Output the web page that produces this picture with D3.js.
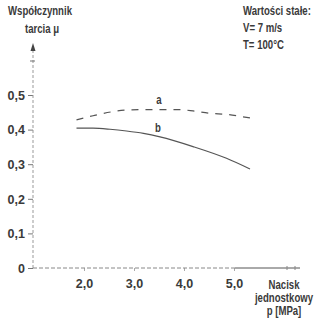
<!DOCTYPE html>
<html><head><meta charset="utf-8">
<script src="https://cdn.jsdelivr.net/npm/d3@7"></script>
<style>
body{margin:0;background:#fff;}
svg{display:block;}
text{font-family:"Liberation Sans",Arial,sans-serif;fill:#3a3a3a;font-weight:bold;}
</style></head><body>
<svg id="c" width="322" height="321"></svg>
<script>
const yTicks = [0, 0.1, 0.2, 0.3, 0.4, 0.5];
const yTickLabels = ["0", "0,1", "0,2", "0,3", "0,4", "0,5"];
const xTicks = [2, 3, 4, 5];
const xTickLabels = ["2,0", "3,0", "4,0", "5,0"];
const pA = [1.85, 2.18, 2.58, 2.92, 3.32, 3.85, 4.18, 4.52, 4.85, 5.18, 5.45];
const muA = [0.428, 0.440, 0.452, 0.457, 0.458, 0.458, 0.454, 0.447, 0.444, 0.437, 0.431];
const pB = [1.85, 2.18, 2.52, 2.85, 3.19, 3.52, 4.18, 4.85, 5.32];
const muB = [0.404, 0.404, 0.401, 0.396, 0.389, 0.379, 0.351, 0.317, 0.286];

const svg = d3.select("#c");
const x = d3.scaleLinear().domain([1, 2]).range([34, 84]);
const y = d3.scaleLinear().domain([0, 0.5]).range([268, 95]);
const SX = 0.8; // horizontal condensing of the narrow typeface

function addText(parent, str, tx, ty, anchor){
  return parent.append("text")
    .attr("transform", `translate(${tx},${ty}) scale(${SX},1)`)
    .attr("text-anchor", anchor || "start")
    .attr("font-size", 12).text(str);
}

// axes
const yAxis = d3.axisLeft(y).tickValues(yTicks).tickFormat((d,i)=>yTickLabels[i]).tickSize(5).tickPadding(3);
const gy = svg.append("g").attr("transform","translate(33,0)").call(yAxis);
gy.select(".domain").remove();
gy.selectAll(".tick line").attr("stroke","#777");
gy.selectAll(".tick text").attr("font-size",12.5).attr("font-weight","bold").attr("fill","#3a3a3a")
  .attr("font-family",null).attr("dy","0.35em");

svg.append("line").attr("x1",33).attr("x2",33).attr("y1",y(0)).attr("y2",50)
  .attr("stroke","#999").attr("stroke-width",1).attr("stroke-dasharray","3,2");
svg.append("path").attr("d","M33,43 L30.5,51 L35.5,51 Z").attr("fill","#444");
svg.append("line").attr("x1",30).attr("x2",35).attr("y1",61).attr("y2",61).attr("stroke","#777");

const xAxis = d3.axisBottom(x).tickValues(xTicks).tickFormat((d,i)=>xTickLabels[i]).tickSize(3).tickPadding(8);
const gx = svg.append("g").attr("transform","translate(0,268)").call(xAxis);
gx.select(".domain").remove();
gx.selectAll(".tick line").attr("stroke","#aaa");
gx.selectAll(".tick text").attr("font-size",12.5).attr("font-weight","bold").attr("fill","#3a3a3a")
  .attr("font-family",null);

svg.append("line").attr("x1",33).attr("x2",235).attr("y1",268).attr("y2",268)
  .attr("stroke","#888").attr("stroke-width",1).attr("stroke-dasharray","4,2");
svg.append("line").attr("x1",235).attr("x2",300).attr("y1",268).attr("y2",268)
  .attr("stroke","#555").attr("stroke-width",1);
svg.append("line").attr("x1",287).attr("x2",287).attr("y1",266).attr("y2",270).attr("stroke","#888");
svg.append("line").attr("x1",295).attr("x2",295).attr("y1",266).attr("y2",270).attr("stroke","#888");

// curves
const line = d3.line().x(d=>x(d[0])).y(d=>y(d[1])).curve(d3.curveMonotoneX);
svg.append("path").datum(pA.map((p,i)=>[p,muA[i]])).attr("d",line)
  .attr("fill","none").attr("stroke","#555").attr("stroke-width",1.2).attr("stroke-dasharray","7,7");
svg.append("path").datum(pB.map((p,i)=>[p,muB[i]])).attr("d",line)
  .attr("fill","none").attr("stroke","#555").attr("stroke-width",1.2);

addText(svg, "a", 159, 104, "middle");
addText(svg, "b", 158, 132, "middle");

// titles
addText(svg, "Współczynnik", 40, 15, "middle");
addText(svg, "tarcia μ", 42, 33, "middle");

addText(svg, "Wartości stałe:", 243, 15);
addText(svg, "V= 7 m/s", 243, 32);
addText(svg, "T= 100°C", 243, 49);

const xt = ["Nacisk","jednostkowy","p [MPa]"];
xt.forEach((d,i)=> addText(svg, d, 284, 289 + i*13, "middle"));
</script></body></html>
